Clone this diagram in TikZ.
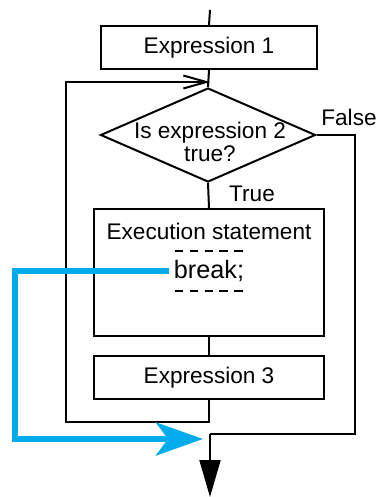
\documentclass[tikz,border=0pt]{standalone}
\usepackage{fontspec}
\setmainfont{Liberation Sans}
\usetikzlibrary{arrows.meta,shapes.geometric}
\definecolor{breakblue}{RGB}{0,172,236}

\begin{document}
\begin{tikzpicture}[x=0.5pt,y=-0.5pt,
	every node/.style={font=\fontsize{11.3}{10}\selectfont},
	box/.style={draw,line width=1pt,minimum width=115pt,minimum height=21.5pt,inner sep=0pt},
	flow/.style={line width=1pt},
	breakline/.style={line width=3.2pt,color=breakblue,line join=miter},
	dots/.style={line width=1pt,dash pattern=on 4.2pt off 3.2pt}]
	
	\useasboundingbox (0,0) rectangle (381,497);
	
	\coordinate (start) at (210,10);
	\coordinate (loopbot) at (66,422);
	\coordinate (looptop) at (66,82);
	\coordinate (loopin) at (210,82);
	\coordinate (falsebot) at (355,434);
	\coordinate (join) at (210,434);
	\coordinate (finish) at (210,497);
	\coordinate (breakcorner) at (15,439);
	\coordinate (breaktip) at (203,439);
	
	\node[box,minimum width=108pt] (expr1) at (209,47.5) {Expression 1};
	\node[draw,diamond,line width=1pt,minimum width=107.5pt,minimum height=47pt,inner sep=0pt] (cond) at (208,135) {};
	\node[align=center,inner sep=0pt] (condtext) at (210,142) {Is expression 2\\true?};
	\node[box,minimum height=63.5pt] (body) at (209,272.5) {};
	\node (stmt) at (209,231) {Execution statement};
	\node[font=\fontsize{12.6}{14}\selectfont,inner sep=2.5pt] (brk) at (209,271) {break;};
	\node[box] (expr3) at (209,377.5) {Expression 3};
	\node (false) at (349,117) {False};
	\node (true) at (252,194) {True};
	
	\draw[dots] (175,251) -- (243,251);
	\draw[dots] (175,291) -- (243,291);
	
	\draw[flow] (start) -- (expr1.north);
	\draw[flow] (expr1.south) -- (cond.north);
	\draw[flow] (cond.south) -- (body.north);
	\draw[flow] (body.south) -- (expr3.north);
	\draw[flow,-{Straight Barb[length=11.5pt,width=6.5pt]}] (expr3.south) |- (loopbot) -- (looptop) -- (loopin);
	\draw[flow] (cond.east) -| (falsebot) -- (join);
	\draw[flow,-{Triangle[length=18.5pt,width=10.5pt]}] (join) -- (finish);
	
	\draw[breakline,-{Stealth[length=23.5pt,width=16.5pt,inset=6pt]}] (brk.west) -| (breakcorner) -- (breaktip);
	
\end{tikzpicture}
\end{document}
